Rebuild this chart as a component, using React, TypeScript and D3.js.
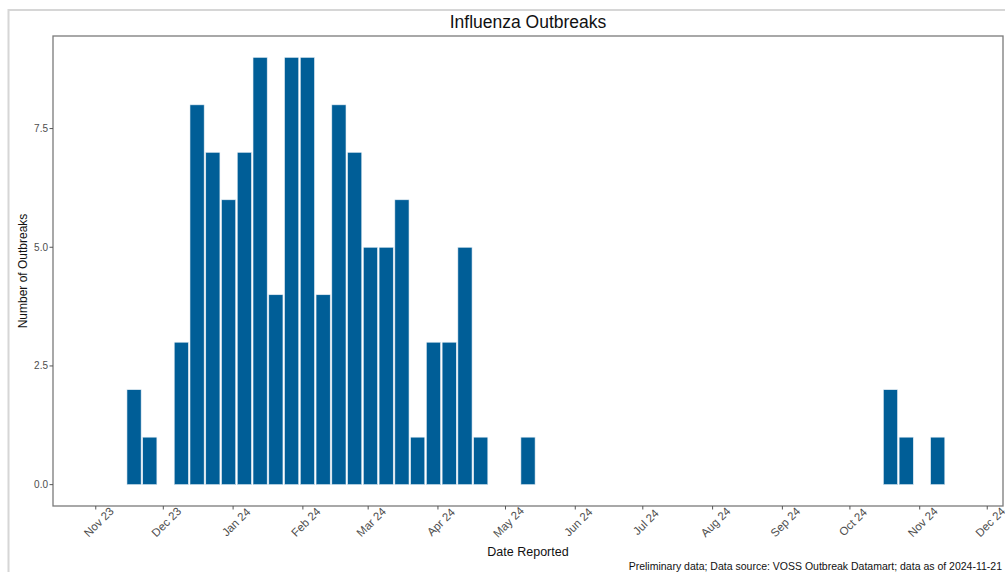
import React, { useEffect, useRef } from "react";
import * as d3 from "d3";

// week-ending dates and outbreak counts
const weeks = [
	"2023-11-18", "2023-11-25", "2023-12-09", "2023-12-16", "2023-12-23",
	"2023-12-30", "2024-01-06", "2024-01-13", "2024-01-20", "2024-01-27",
	"2024-02-03", "2024-02-10", "2024-02-17", "2024-02-24", "2024-03-02",
	"2024-03-09", "2024-03-16", "2024-03-23", "2024-03-30", "2024-04-06",
	"2024-04-13", "2024-04-20", "2024-05-11", "2024-10-19", "2024-10-26",
	"2024-11-09",
];
const counts = [
	2, 1, 3, 8, 7, 6, 7, 9, 4, 9, 9, 4, 8, 7, 5, 5, 6, 1, 3, 3, 5, 1, 1, 2, 1, 1,
];
const yTicks = [0, 2.5, 5, 7.5];
const xDomain = ["2023-10-13", "2024-12-08"];
const xTickRange = ["2023-11-01", "2024-12-01"];

const title = "Influenza Outbreaks";
const xTitle = "Date Reported";
const yTitle = "Number of Outbreaks";
const caption =
	"Preliminary data; Data source: VOSS Outbreak Datamart; data as of 2024-11-21";

const W = 1005;
const H = 572;
const FONT = "'Liberation Sans', Arial, sans-serif";

const App: React.FC = () => {
	const ref = useRef<SVGSVGElement | null>(null);

	useEffect(() => {
		if (!ref.current) return;
		const svg = d3.select(ref.current);
		svg.selectAll("*").remove();

		const panel = { left: 53, right: 1003, top: 36, bottom: 506 };
		const parse = d3.utcParse("%Y-%m-%d");

		const data = weeks.map((w, i) => ({ date: parse(w) as Date, count: counts[i] }));

		const x = d3
			.scaleUtc()
			.domain(xDomain.map((d) => parse(d) as Date))
			.range([panel.left, panel.right]);

		const yMax = d3.max(counts) as number;
		const pad = yMax * 0.05;
		const y = d3
			.scaleLinear()
			.domain([-pad, yMax + pad])
			.range([panel.bottom, panel.top]);

		// outer frame
		svg.append("rect")
			.attr("x", 8.5)
			.attr("y", 10)
			.attr("width", W + 20)
			.attr("height", H + 20)
			.attr("fill", "white")
			.attr("stroke", "#d6d6d6")
			.attr("stroke-width", 2);

		// bars
		const halfW = 0.45 * 7 * 24 * 3600 * 1000;
		svg.append("g")
			.selectAll("rect")
			.data(data)
			.enter()
			.append("rect")
			.attr("x", (d) => x(new Date(d.date.getTime() - halfW)))
			.attr("width", (d) => x(new Date(d.date.getTime() + halfW)) - x(new Date(d.date.getTime() - halfW)))
			.attr("y", (d) => y(d.count))
			.attr("height", (d) => y(0) - y(d.count))
			.attr("fill", "#005e97")
			.attr("stroke", "#e6eef5")
			.attr("stroke-width", 0.6);

		// panel border
		svg.append("rect")
			.attr("x", panel.left)
			.attr("y", panel.top)
			.attr("width", panel.right - panel.left)
			.attr("height", panel.bottom - panel.top)
			.attr("fill", "none")
			.attr("stroke", "#7a7a7a")
			.attr("stroke-width", 1.3);

		// y axis
		const gy = svg.append("g");
		yTicks.forEach((t) => {
			gy.append("line")
				.attr("x1", panel.left - 3.5)
				.attr("x2", panel.left)
				.attr("y1", y(t))
				.attr("y2", y(t))
				.attr("stroke", "#555")
				.attr("stroke-width", 1);
			gy.append("text")
				.attr("x", panel.left - 5)
				.attr("y", y(t))
				.attr("dy", "0.35em")
				.attr("text-anchor", "end")
				.attr("font-family", FONT)
				.attr("font-size", 10)
				.attr("fill", "#4d4d4d")
				.text(d3.format(".1f")(t));
		});

		// x axis
		const months = d3.utcMonth.range(
			parse(xTickRange[0]) as Date,
			d3.utcDay.offset(parse(xTickRange[1]) as Date, 1)
		);
		const fmt = d3.utcFormat("%b %y");
		const gx = svg.append("g");
		months.forEach((m) => {
			const px = x(m);
			gx.append("line")
				.attr("x1", px)
				.attr("x2", px)
				.attr("y1", panel.bottom)
				.attr("y2", panel.bottom + 3.5)
				.attr("stroke", "#555")
				.attr("stroke-width", 1);
			gx.append("text")
				.attr("transform", `translate(${px + 3},${panel.bottom + 16}) rotate(-45)`)
				.attr("text-anchor", "middle")
				.attr("dy", "0.35em")
				.attr("font-family", FONT)
				.attr("font-size", 11.5)
				.attr("fill", "#4d4d4d")
				.text(fmt(m));
		});

		// titles
		svg.append("text")
			.attr("x", (panel.left + panel.right) / 2)
			.attr("y", 28)
			.attr("text-anchor", "middle")
			.attr("font-family", FONT)
			.attr("font-size", 17.5)
			.attr("fill", "#111")
			.text(title);

		svg.append("text")
			.attr("x", (panel.left + panel.right) / 2)
			.attr("y", 556)
			.attr("text-anchor", "middle")
			.attr("font-family", FONT)
			.attr("font-size", 12.5)
			.attr("fill", "#111")
			.text(xTitle);

		svg.append("text")
			.attr("transform", `translate(27,${(panel.top + panel.bottom) / 2}) rotate(-90)`)
			.attr("text-anchor", "middle")
			.attr("font-family", FONT)
			.attr("font-size", 12)
			.attr("fill", "#111")
			.text(yTitle);

		svg.append("text")
			.attr("x", panel.right - 1)
			.attr("y", 570)
			.attr("text-anchor", "end")
			.attr("font-family", FONT)
			.attr("font-size", 10.5)
			.attr("fill", "#111")
			.text(caption);

		return () => {
			svg.selectAll("*").remove();
		};
	}, []);

	return (
		<div style={{ position: "fixed", left: 0, top: 0, width: W, height: H, background: "white" }}>
			<svg ref={ref} width={W} height={H} style={{ display: "block" }} />
		</div>
	);
};

export default App;
